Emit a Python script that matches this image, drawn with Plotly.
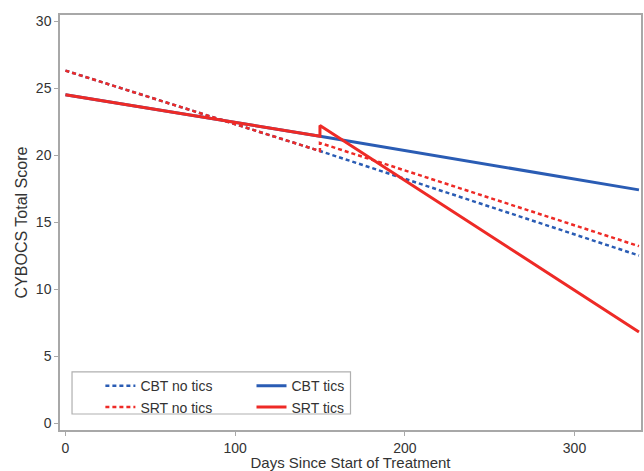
import plotly.graph_objects as go

# Data (days, CYBOCS total score)
cbt_notics_days = [0, 150, 338]
cbt_notics_score = [26.3, 20.3, 12.5]

srt_notics_days = [0, 150, 150, 338]
srt_notics_score = [26.3, 20.3, 20.9, 13.2]

cbt_tics_days = [0, 150, 338]
cbt_tics_score = [24.5, 21.4, 17.4]

srt_tics_days = [0, 150, 150, 338]
srt_tics_score = [24.5, 21.4, 22.2, 6.8]

x_ticks = [0, 100, 200, 300]
y_ticks = [0, 5, 10, 15, 20, 25, 30]

BLUE = "#2a5cb4"
RED = "#ee2a26"
FONT = "Liberation Sans, Arial, sans-serif"
TXT = "#333333"

fig = go.Figure()
fig.add_trace(go.Scatter(x=cbt_notics_days, y=cbt_notics_score, mode="lines",
                         name="CBT no tics", legend="legend",
                         line=dict(color=BLUE, width=2.5, dash="4px,3px")))
fig.add_trace(go.Scatter(x=cbt_tics_days, y=cbt_tics_score, mode="lines",
                         name="CBT tics", legend="legend2",
                         line=dict(color=BLUE, width=3)))
fig.add_trace(go.Scatter(x=srt_notics_days, y=srt_notics_score, mode="lines",
                         name="SRT no tics", legend="legend",
                         line=dict(color=RED, width=2.5, dash="4px,3px")))
fig.add_trace(go.Scatter(x=srt_tics_days, y=srt_tics_score, mode="lines",
                         name="SRT tics", legend="legend2",
                         line=dict(color=RED, width=3)))

axis_common = dict(showline=True, linecolor="#a8a8a8", linewidth=1.5, mirror=True,
                   ticks="outside", ticklen=4, tickcolor="#a8a8a8",
                   showgrid=False, zeroline=False, automargin=False,
                   tickfont=dict(family=FONT, size=14, color=TXT))

fig.update_layout(
    width=644, height=471,
    margin=dict(l=60, r=3, t=15, b=41),
    paper_bgcolor="white", plot_bgcolor="white",
    font=dict(family=FONT, size=14, color=TXT),
    xaxis=dict(range=[-3.2, 339.2], tickvals=x_ticks,
               title=dict(text="Days Since Start of Treatment", standoff=2,
                          font=dict(family=FONT, size=15, color=TXT)),
               **axis_common),
    yaxis=dict(range=[-0.52, 30.45], tickvals=y_ticks,
               title=dict(text="CYBOCS Total Score", standoff=4,
                          font=dict(family=FONT, size=16, color=TXT)),
               **axis_common),
    legend=dict(x=0.0695, y=0.144, xanchor="left", yanchor="top",
                bgcolor="rgba(0,0,0,0)", borderwidth=0, tracegroupgap=0,
                font=dict(family=FONT, size=14, color=TXT)),
    legend2=dict(x=0.3296, y=0.144, xanchor="left", yanchor="top",
                 bgcolor="rgba(0,0,0,0)", borderwidth=0, tracegroupgap=0,
                 font=dict(family=FONT, size=14, color=TXT)),
    shapes=[dict(type="rect", xref="paper", yref="paper",
                 x0=0.0207, x1=0.50, y0=0.0386, y1=0.14,
                 line=dict(color="#b0b0b0", width=1.2), fillcolor="rgba(0,0,0,0)")],
    showlegend=True,
)

fig.write_html("out.html",
               config={"displayModeBar": False},
               post_script="document.body.style.margin='0px';document.body.style.overflow='hidden';")
